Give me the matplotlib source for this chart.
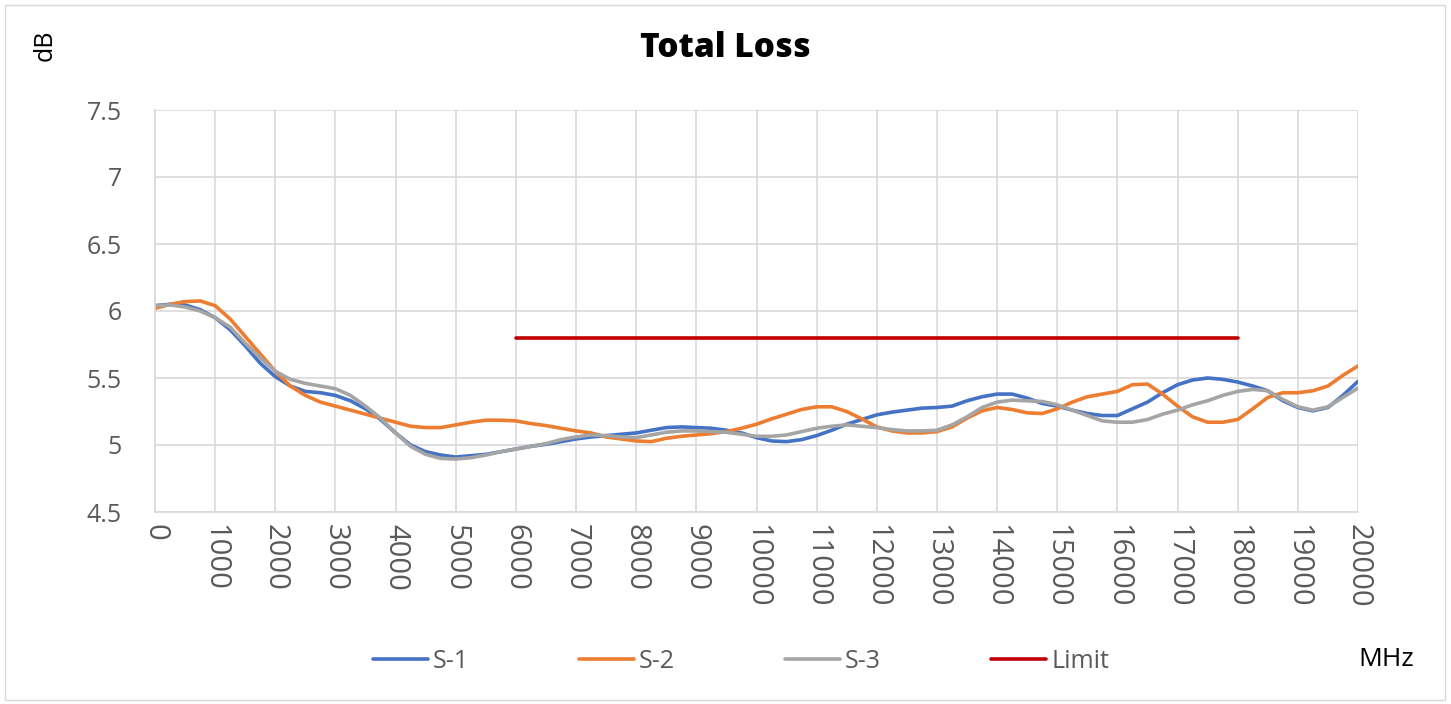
import numpy as np
import matplotlib.pyplot as plt
from matplotlib.patches import Rectangle

# frequency axis, MHz (one reading every 250 MHz)
freq = np.arange(0, 20001, 250)

s1 = [6.04, 6.05, 6.045, 6.01,
      5.95, 5.86, 5.74, 5.61,
      5.51, 5.44, 5.40, 5.39,
      5.37, 5.33, 5.27, 5.19,
      5.09, 5.00, 4.95, 4.925,
      4.91, 4.92, 4.93, 4.95,
      4.97, 4.99, 5.005, 5.025,
      5.045, 5.06, 5.07, 5.08,
      5.09, 5.11, 5.13, 5.135,
      5.13, 5.125, 5.11, 5.09,
      5.055, 5.03, 5.025, 5.04,
      5.07, 5.11, 5.155, 5.19,
      5.225, 5.245, 5.26, 5.275,
      5.28, 5.29, 5.33, 5.36,
      5.38, 5.38, 5.35, 5.31,
      5.29, 5.26, 5.235, 5.22,
      5.22, 5.27, 5.32, 5.39,
      5.45, 5.485, 5.50, 5.49,
      5.47, 5.44, 5.405, 5.33,
      5.28, 5.255, 5.28, 5.37,
      5.475]
s2 = [6.02, 6.05, 6.07, 6.075,
      6.04, 5.94, 5.81, 5.68,
      5.55, 5.44, 5.37, 5.32,
      5.29, 5.26, 5.23, 5.20,
      5.17, 5.14, 5.13, 5.13,
      5.15, 5.17, 5.185, 5.185,
      5.18, 5.16, 5.145, 5.125,
      5.105, 5.09, 5.06, 5.045,
      5.03, 5.025, 5.05, 5.065,
      5.075, 5.085, 5.10, 5.125,
      5.155, 5.195, 5.23, 5.265,
      5.285, 5.285, 5.25, 5.195,
      5.135, 5.105, 5.09, 5.09,
      5.10, 5.135, 5.20, 5.255,
      5.28, 5.265, 5.24, 5.235,
      5.27, 5.32, 5.36, 5.38,
      5.40, 5.45, 5.455, 5.38,
      5.29, 5.21, 5.17, 5.17,
      5.19, 5.27, 5.355, 5.39,
      5.39, 5.405, 5.44, 5.52,
      5.59]
s3 = [6.04, 6.045, 6.03, 6.00,
      5.95, 5.88, 5.76, 5.65,
      5.55, 5.49, 5.46, 5.44,
      5.42, 5.37, 5.29, 5.20,
      5.09, 4.99, 4.93, 4.90,
      4.895, 4.905, 4.925, 4.95,
      4.97, 4.99, 5.01, 5.04,
      5.06, 5.075, 5.07, 5.06,
      5.055, 5.075, 5.095, 5.105,
      5.105, 5.10, 5.095, 5.08,
      5.065, 5.065, 5.075, 5.10,
      5.125, 5.14, 5.15, 5.14,
      5.13, 5.115, 5.105, 5.105,
      5.11, 5.15, 5.21, 5.28,
      5.32, 5.335, 5.33, 5.325,
      5.30, 5.26, 5.22, 5.18,
      5.17, 5.17, 5.19, 5.23,
      5.26, 5.30, 5.33, 5.37,
      5.40, 5.415, 5.405, 5.34,
      5.285, 5.26, 5.285, 5.355,
      5.425]

limit_freq = [6000, 18000]
limit_val = [5.8, 5.8]

xticks = np.arange(0, 20001, 1000)
yticks = [4.5, 5, 5.5, 6, 6.5, 7, 7.5]
ytick_labels = ["4.5", "5", "5.5", "6", "6.5", "7", "7.5"]

plt.rcParams['font.family'] = ['Open Sans', 'DejaVu Sans']

fig = plt.figure(figsize=(14.51, 7.04), dpi=100)
ax = fig.add_axes([155 / 1451, 1 - 512 / 704, (1358 - 155) / 1451, (512 - 110) / 704])

# outer chart border
fig.patches.append(Rectangle((5 / 1451, 4 / 704), 1440 / 1451, 695 / 704,
                             transform=fig.transFigure, fill=False,
                             edgecolor="#d9d9d9", linewidth=1))

line_kw = dict(lw=2.6, solid_capstyle="round", solid_joinstyle="round")
ax.plot(freq, s1, "-", color="#4472C4", label="S-1", **line_kw)
ax.plot(freq, s2, "-", color="#ED7D31", label="S-2", **line_kw)
ax.plot(freq, s3, "-", color="#A5A5A5", label="S-3", **line_kw)
ax.plot(limit_freq, limit_val, "-", color="#C00000", label="Limit", **line_kw)

ax.set_xlim(0, 20000)
ax.set_ylim(4.5, 7.5)
ax.set_xticks(xticks)
ax.set_xticklabels([str(v) for v in xticks], rotation=-90, fontsize=21, color="#595959")
ax.set_yticks(yticks)
ax.set_yticklabels(ytick_labels, fontsize=18, color="#595959")
ax.tick_params(length=0)
ax.tick_params(axis="x", pad=9)
ax.tick_params(axis="y", pad=24)

ax.grid(True, color="#d9d9d9", lw=1.2)
ax.set_axisbelow(True)
for side in ["top", "right"]:
    ax.spines[side].set_visible(False)
for side in ["left", "bottom"]:
    ax.spines[side].set_color("#d9d9d9")
    ax.spines[side].set_linewidth(1.2)

fig.text(0.5, 1 - 48 / 704, "Total Loss", ha="center", va="center",
         fontsize=24, fontweight="heavy", color="black")
fig.text(45 / 1451, 1 - 45 / 704, "dB", rotation=90, ha="center", va="center",
         fontsize=18, color="black")
fig.text(1386 / 1451, 1 - 660 / 704, "MHz", ha="center", va="center",
         fontsize=19, color="black")

fig.legend(loc="center", bbox_to_anchor=(741 / 1451, 1 - 661 / 704), ncol=4,
           frameon=False, handlelength=2.2, handletextpad=0.2,
           columnspacing=4.4, labelcolor="#595959", fontsize=18)

plt.savefig("out.png", dpi=100)
